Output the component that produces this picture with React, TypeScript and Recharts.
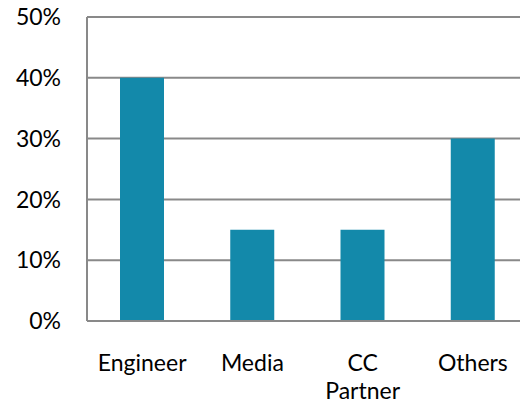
import { BarChart, Bar, XAxis, YAxis, CartesianGrid } from "recharts";

// valores
const categories = ["Engineer", "Media", "CC Partner", "Others"];
const shares = [0.4, 0.15, 0.15, 0.3];
const yTicks = [0, 0.1, 0.2, 0.3, 0.4, 0.5];

const data = categories.map((name, i) => ({ name, share: shares[i] }));

const FONT = "Lato, sans-serif";
const GRAY = "#898989";

// etiqueta de categoria partida en lineas (CC / Partner)
const CategoryTick = (props: any) => {
  const { x, y, payload } = props;
  const lines = String(payload.value).split(" ");
  return (
    <text x={x} y={y + 44} textAnchor="middle" fill="#000" fontSize={23} fontFamily={FONT}>
      {lines.map((line, i) => (
        <tspan key={i} x={x} dy={i === 0 ? 0 : 27.5}>
          {line}
        </tspan>
      ))}
    </text>
  );
};

const App = () => (
  <div
    style={{
      position: "absolute",
      left: 0,
      top: 0,
      width: 520,
      height: 404,
      overflow: "hidden",
      background: "#fff",
      fontFamily: FONT,
    }}
  >
    <BarChart
      width={540}
      height={404}
      data={data}
      margin={{ top: 17, right: 12, bottom: 0, left: 0 }}
    >
      <CartesianGrid vertical={false} stroke={GRAY} strokeWidth={2} />
      <XAxis
        dataKey="name"
        height={83}
        tickLine={false}
        tickMargin={0}
        axisLine={{ stroke: GRAY, strokeWidth: 2 }}
        tick={<CategoryTick />}
        interval={0}
      />
      <YAxis
        width={87}
        domain={[0, 0.5]}
        ticks={yTicks}
        tickFormatter={(v: number) => `${Math.round(v * 100)}%`}
        tickLine={false}
        tickMargin={20}
        axisLine={{ stroke: GRAY, strokeWidth: 2 }}
        tick={{ fill: "#000", fontSize: 23, fontFamily: FONT }}
      />
      <Bar dataKey="share" fill="#1389AA" barSize={44} isAnimationActive={false} />
    </BarChart>
  </div>
);

export default App;
